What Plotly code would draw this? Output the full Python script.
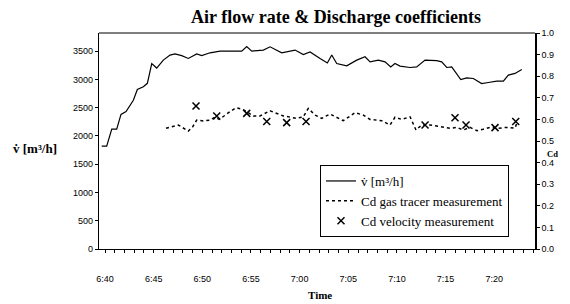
import pandas as pd
import plotly.graph_objects as go

# ---- data (minutes after 6:40) ----
flow_t = [-0.34, 0.17, 0.69, 1.20, 1.64, 2.16, 2.91, 3.32, 3.94, 4.35, 4.80, 5.31, 5.99, 6.68,
          7.19, 7.88, 8.56, 9.42, 9.94, 10.79, 11.82, 13.16, 14.05, 14.56, 15.08, 16.27, 16.96,
          18.16, 19.53, 20.38, 21.07, 22.10, 22.85, 23.30, 23.81, 24.84, 25.87, 26.72, 27.24,
          28.09, 28.78, 29.36, 29.80, 30.32, 31.35, 32.03, 32.89, 34.09, 34.60, 35.12, 35.63,
          36.56, 37.17, 37.85, 38.71, 39.39, 40.26, 40.94, 41.45, 42.14, 42.83]
flow_v = [1820, 1820, 2120, 2120, 2380, 2430, 2630, 2820, 2870, 2930, 3280, 3200, 3340, 3430,
          3450, 3420, 3370, 3450, 3420, 3470, 3500, 3500, 3500, 3580, 3500, 3518, 3576,
          3470, 3518, 3440, 3486, 3370, 3290, 3430, 3280, 3240, 3340, 3400, 3310,
          3340, 3310, 3220, 3280, 3235, 3210, 3220, 3340, 3330, 3310, 3210, 3220,
          2996, 3025, 3015, 2925, 2945, 2970, 2970, 3075, 3105, 3175]

gas_t = [6.27, 7.02, 7.53, 8.56, 9.01, 9.42, 10.10, 10.79, 11.31, 11.75, 12.33, 12.85, 13.46,
         14.05, 14.56, 15.24, 15.93, 16.96, 18.32, 19.70, 20.38, 20.89, 21.58, 22.27, 23.12,
         23.64, 24.49, 25.69, 26.55, 27.24, 28.44, 29.29, 29.80, 30.49, 31.35, 31.96, 32.55,
         33.40, 34.43, 35.46, 36.15, 36.82, 37.51, 38.23, 38.85, 39.57, 40.42, 41.28, 42.14, 42.31]
gas_cd = [0.559, 0.566, 0.574, 0.546, 0.566, 0.597, 0.593, 0.597, 0.610, 0.600, 0.620, 0.636, 0.654,
          0.648, 0.636, 0.616, 0.616, 0.640, 0.616, 0.605, 0.612, 0.651, 0.620, 0.605, 0.625,
          0.612, 0.594, 0.631, 0.620, 0.600, 0.594, 0.574, 0.610, 0.600, 0.612, 0.551, 0.574,
          0.574, 0.566, 0.559, 0.563, 0.551, 0.563, 0.548, 0.554, 0.563, 0.559, 0.563, 0.559, 0.582]

vel_t = [9.35, 11.48, 14.56, 16.62, 18.67, 20.66, 32.89, 35.97, 37.10, 40.08, 42.21]
vel_cd = [0.662, 0.616, 0.628, 0.590, 0.585, 0.590, 0.574, 0.608, 0.574, 0.562, 0.590]

x_range_min = [-0.62, 44.19]
start = pd.Timestamp("2000-01-01 06:40:00")


def to_time(mins):
    return [start + pd.Timedelta(minutes=m) for m in mins]


serif = "Liberation Serif"
sans = "Liberation Sans"

# plot area in page pixels: x 99..535, y 33..249 (page has an 8px body margin)
def px(x):
    return (x - 99) / 436


def py(y):
    return (249 - y) / 216


fig = go.Figure()
fig.add_trace(go.Scatter(x=to_time(flow_t), y=flow_v, mode="lines", name="v\u0307 [m³/h]",
                         line=dict(color="black", width=1.2)))
fig.add_trace(go.Scatter(x=to_time(gas_t), y=gas_cd, mode="lines", name="Cd gas tracer measurement",
                         line=dict(color="black", width=1.5, dash="dot"), yaxis="y2"))
fig.add_trace(go.Scatter(x=to_time(vel_t), y=vel_cd, mode="markers", name="Cd velocity measurement",
                         marker=dict(symbol="x-thin", size=7, line=dict(color="black", width=1.5)),
                         yaxis="y2"))

fig.update_layout(
    width=562, height=296,
    margin=dict(l=91, r=35, t=25, b=55),
    paper_bgcolor="white", plot_bgcolor="white",
    font=dict(family=sans, size=9, color="black"),
    showlegend=True,
    legend=dict(x=px(320), y=py(165), xanchor="left", yanchor="top",
                bordercolor="black", borderwidth=1, bgcolor="white",
                font=dict(family=serif, size=13, color="black"),
                tracegroupgap=0, itemwidth=30),
    xaxis=dict(type="date", range=to_time(x_range_min), tickformat="%-H:%M",
               dtick=300000, tick0=start, showgrid=False, zeroline=False,
               showline=True, linecolor="black", linewidth=1,
               ticks="outside", ticklen=3, tickcolor="black",
               minor=dict(dtick=60000, ticks="outside", ticklen=3, tickcolor="black", showgrid=False),
               ticklabelstandoff=18, tickfont=dict(family=sans, size=9)),
    yaxis=dict(range=[0, 3820], dtick=500, showgrid=False, zeroline=False,
               showline=True, linecolor="black", linewidth=1.2,
               ticks="outside", ticklen=3, tickcolor="black",
               tickfont=dict(family=sans, size=9)),
    yaxis2=dict(range=[0, 1.0], dtick=0.1, tickformat=".1f", overlaying="y", side="right",
                showgrid=False, zeroline=False, showline=True, linecolor="black", linewidth=1.5,
                ticks="outside", ticklen=3, tickcolor="black",
                tickfont=dict(family=sans, size=9)),
    shapes=[dict(type="line", xref="paper", yref="paper", x0=0, x1=1, y0=1, y1=1,
                 line=dict(color="black", width=1.2))],
    annotations=[
        dict(text="<b>Air flow rate & Discharge coefficients</b>", xref="paper", yref="paper",
             x=px(336), y=py(17), xanchor="center", yanchor="middle",
             showarrow=False, font=dict(family=serif, size=18, color="black")),
        dict(text="<b>v\u0307 [m³/h]</b>", xref="paper", yref="paper",
             x=px(11), y=py(148), xanchor="left", yanchor="middle",
             showarrow=False, font=dict(family=serif, size=13, color="black")),
        dict(text="<b>Cd</b>", xref="paper", yref="paper",
             x=px(560), y=py(154), xanchor="right", yanchor="middle",
             showarrow=False, font=dict(family=serif, size=8.5, color="black")),
        dict(text="<b>Time</b>", xref="paper", yref="paper",
             x=px(320), y=py(295), xanchor="center", yanchor="middle",
             showarrow=False, font=dict(family=serif, size=11, color="black")),
    ],
)

fig.write_html("out.html")
